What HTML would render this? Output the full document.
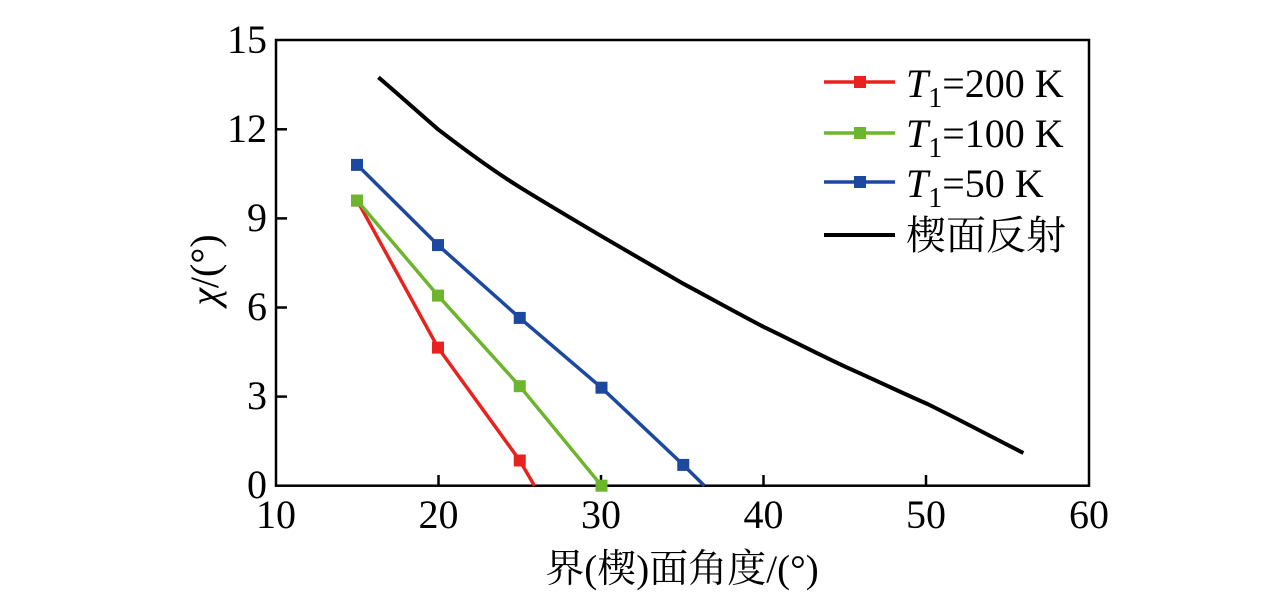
<!DOCTYPE html>
<html><head><meta charset="utf-8"><style>html,body{margin:0;padding:0;background:#fff}svg{display:block}</style></head><body>
<svg width="1276" height="595" viewBox="0 0 1276 595" xmlns="http://www.w3.org/2000/svg" font-family="'Liberation Serif','Noto Serif CJK SC',serif">
<rect x="276" y="40" width="813" height="445.7" fill="none" stroke="#000" stroke-width="2.5"/>
<g stroke="#000" stroke-width="2.5">
<line x1="276" y1="396.6" x2="287" y2="396.6"/><line x1="276" y1="307.5" x2="287" y2="307.5"/><line x1="276" y1="218.4" x2="287" y2="218.4"/><line x1="276" y1="129.3" x2="287" y2="129.3"/>
<line x1="438.5" y1="485.7" x2="438.5" y2="475"/><line x1="601" y1="485.7" x2="601" y2="475"/><line x1="763.5" y1="485.7" x2="763.5" y2="475"/><line x1="926" y1="485.7" x2="926" y2="475"/>
</g>
<g font-size="40" text-anchor="end" fill="#000">
<text x="267" y="53">15</text><text x="267" y="142">12</text><text x="267" y="231">9</text><text x="267" y="320">6</text><text x="267" y="409">3</text><text x="267" y="498">0</text>
</g>
<g font-size="40" text-anchor="middle" fill="#000">
<text x="276" y="528">10</text><text x="438.5" y="528">20</text><text x="601" y="528">30</text><text x="763.5" y="528">40</text><text x="926" y="528">50</text><text x="1089" y="528">60</text>
</g>
<text x="682" y="582" font-size="39" text-anchor="middle">界(楔)面角度/(°)</text>
<text transform="translate(218,270) rotate(-90)" font-size="40" text-anchor="middle"><tspan font-style="italic">χ</tspan>/(°)</text>
<path fill="none" stroke="#000" stroke-width="4" d="M378.4,77.3 C398,94 418,112 438,129.3 C465,150 492,170 519.75,187.2 C547,204 574,220 601.5,236.2 C629,252 656,268 683.25,283.7 C710,298 737,313 763.5,326.8 C791,340 818,354 845.75,366.9 C873,379 900,392 927.5,404 C960,420 992,437 1023.4,453"/>
<g fill="none" stroke-width="3.5">
<polyline stroke="#e8231f" points="357.25,200.6 438,347.6 519.75,460.5 534.4,485.7"/>
<polyline stroke="#6db52d" points="357.25,200.6 438,295.6 519.75,386.2 601.5,485.7"/>
<polyline stroke="#1d48a0" points="357.25,164.9 438,245.1 519.75,317.9 601.5,387.7 683.25,464.9 704.4,485.7"/>
</g>
<g fill="#e8231f"><rect x="351" y="194.6" width="12" height="12"/><rect x="432" y="341.6" width="12" height="12"/><rect x="513.75" y="454.5" width="12" height="12"/></g>
<g fill="#6db52d"><rect x="351" y="194.6" width="12" height="12"/><rect x="432" y="289.6" width="12" height="12"/><rect x="513.75" y="380.2" width="12" height="12"/><rect x="595.5" y="479.7" width="12" height="12"/></g>
<g fill="#1d48a0"><rect x="351" y="158.9" width="12" height="12"/><rect x="432" y="239.1" width="12" height="12"/><rect x="513.75" y="311.9" width="12" height="12"/><rect x="595.5" y="381.7" width="12" height="12"/><rect x="677.25" y="458.9" width="12" height="12"/></g>
<g stroke-width="3.5">
<line x1="824" y1="82" x2="895" y2="82" stroke="#e8231f"/><rect x="854" y="76" width="12" height="12" fill="#e8231f"/>
<line x1="824" y1="133" x2="895" y2="133" stroke="#6db52d"/><rect x="854" y="127" width="12" height="12" fill="#6db52d"/>
<line x1="824" y1="182" x2="895" y2="182" stroke="#1d48a0"/><rect x="854" y="176" width="12" height="12" fill="#1d48a0"/>
<line x1="824" y1="235" x2="895" y2="235" stroke="#000" stroke-width="4"/>
</g>
<g font-size="40" fill="#000">
<text x="906" y="97"><tspan font-style="italic">T</tspan><tspan font-size="28" dy="10">1</tspan><tspan dy="-10">=200 K</tspan></text>
<text x="906" y="147"><tspan font-style="italic">T</tspan><tspan font-size="28" dy="10">1</tspan><tspan dy="-10">=100 K</tspan></text>
<text x="906" y="197"><tspan font-style="italic">T</tspan><tspan font-size="28" dy="10">1</tspan><tspan dy="-10">=50 K</tspan></text>
<text x="906" y="249">楔面反射</text>
</g>
</svg>
</body></html>
